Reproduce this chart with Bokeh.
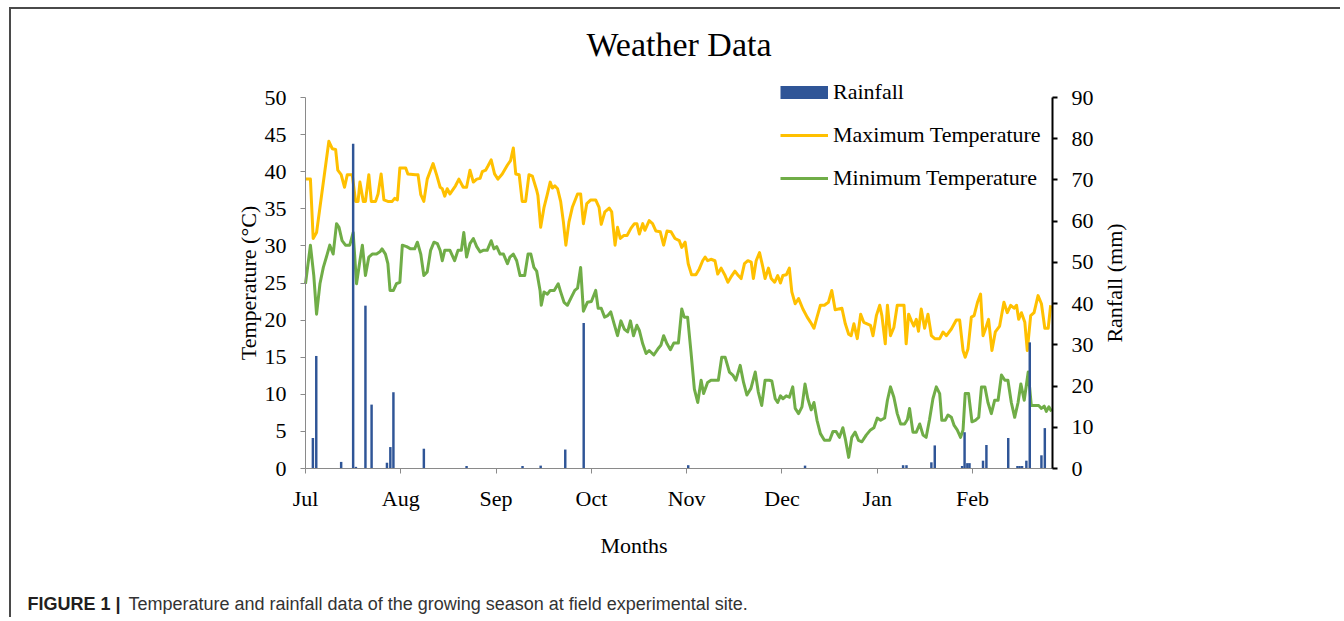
import math
from bokeh.plotting import figure
from bokeh.models import (Range1d, LinearAxis, FixedTicker, Label, Legend,
                          LegendItem, ColumnDataSource)
from bokeh.embed import file_html
from bokeh.resources import INLINE

# ---------------- data (days counted from 1 July) ----------------
MONTHS = ["Jul", "Aug", "Sep", "Oct", "Nov", "Dec", "Jan", "Feb"]
MONTH_TICKS = [0, 31, 62, 93, 124, 155, 186, 217]
TEMP_TICKS = [0, 5, 10, 15, 20, 25, 30, 35, 40, 45, 50]
RAIN_TICKS = [0, 10, 20, 30, 40, 50, 60, 70, 80, 90]
TEMP_MAX_AXIS = 50
RAIN_MAX_AXIS = 90
SEASON_DAYS = 243

MAX_DAY = [0, 1.6, 2.5, 3.6, 7.6, 8.7, 9.8, 10.5, 11.6, 12.7, 13.6, 15.2, 16.3, 17.1,
           17.7, 18.8, 19.5, 20.6, 21.4, 22.8, 23.6, 24.6, 25.5, 26.8, 28.2, 29, 29.9,
           30.7, 32.6, 33.3, 35.8, 36.6, 37.5, 38.5, 39.6, 41.5, 42.7, 43.8, 44.5, 45.3,
           46.1, 47, 48.8, 49.9, 51.3, 52.4, 53.5, 54.6, 55.7, 56.8, 57.5, 58.6, 59.4,
           60.4, 61.5, 62.6, 64, 65.7, 66.7, 67.6, 68.4, 69.5, 70.5, 71.6, 72.7, 73.8,
           75.2, 75.6, 76.5, 77.6, 78.7, 79.6, 80.3, 81.1, 82, 83, 83.9, 84.7, 85.7,
           86.8, 88.5, 89.5, 90.4, 91.5, 92.8, 94.4, 95.5, 96.2, 97.4, 98.8, 99.6,
           100.7, 101.5, 102.4, 103.5, 104.6, 105.9, 107, 107.8, 108.6, 109.7, 110.4,
           111.8, 112.9, 114, 115.4, 116.5, 117.6, 118.9, 120.2, 121.6, 122.4, 123.5,
           124.5, 125.6, 127, 128.1, 129.2, 130, 130.8, 131.9, 133.2, 134.1, 135.2,
           136.5, 137.4, 138.7, 139.7, 140.8, 141.7, 142.8, 143.9, 145, 145.7, 146.6,
           147.7, 148.8, 149.5, 150.6, 151.5, 152.6, 153.6, 154.5, 155.3, 156.4, 157.4,
           158.2, 159.3, 160.4, 161.8, 163.2, 164.3, 165.4, 166.4, 167.5, 168.8, 170.1,
           171.2, 172.3, 173.4, 174.5, 175.6, 176.7, 177.5, 178.4, 179.5, 180.6, 181.6,
           182.7, 183.8, 184.6, 185.7, 186.8, 187.5, 188.6, 189.3, 190.3, 191.4, 192.5,
           193.8, 194.7, 195.4, 196.2, 197.1, 197.9, 198.7, 199.4, 200.3, 201.4, 202.5,
           203.6, 204.7, 206.3, 207.4, 208.5, 210.1, 211.7, 212.8, 213.9, 214.6, 215.5,
           216.6, 217.5, 218.6, 219.6, 220.4, 221.2, 222.2, 223.3, 224.4, 225.8, 227.2,
           228.3, 229.4, 230.5, 231.3, 232, 232.9, 234, 234.8, 235.9, 237, 238.3, 239.4,
           240.5, 241.6, 242.4]
MAX_TEMP = [39, 39, 31, 31.8, 44.1, 43.1, 43, 40.2, 39.6, 37.9, 39.6, 39.6, 36, 36,
            38.6, 36, 36, 39.6, 36, 36, 37, 39.7, 36.2, 36, 36, 36.4, 36.2,
            40.5, 40.5, 39.7, 39.6, 39.6, 36.9, 36, 39, 41.1, 39.5, 37.9, 37.7, 36.7,
            37.7, 37, 38.1, 39, 37.9, 37.9, 40.2, 38.6, 39, 39.1, 40, 40.2, 40.8,
            41.6, 39.7, 39, 39.7, 40.9, 41.5, 43.2, 39.7, 39.6, 36, 36, 39.6, 39.4,
            37.5, 36.8, 32.5, 35.2, 37, 38.6, 37.8, 38.1, 37.7, 36, 33.2, 30.1, 33.2,
            35.2, 37, 37, 33, 35.7, 36.2, 36.2, 35.2, 32.9, 34.6, 35.1, 34.6,
            30.1, 32.5, 31, 31.4, 31.4, 32.4, 33, 33, 31.6, 33, 32.1,
            33.4, 33, 32, 31.9, 30.1, 32, 31.9, 31, 30.7, 29.8, 30.5,
            27.6, 26.1, 26.1, 26.9, 28, 28.5, 28, 28.2, 28, 26.2, 27,
            26, 25.1, 26, 26.6, 26, 25.6, 27.6, 28, 27.8, 25.6, 28,
            29.1, 27.1, 25.6, 27, 25.6, 25.1, 26, 25, 26, 26.1, 27,
            23.8, 22.2, 22.9, 21.5, 20.4, 19.7, 18.9, 20.4, 22, 22, 22.4,
            24, 21.4, 21.5, 21.6, 19.5, 18.1, 17.9, 19.5, 17.5, 20.8, 19.7,
            19.5, 19.3, 17.9, 20.6, 22, 20.6, 16.8, 22, 17.9, 19, 22,
            22, 22, 16.8, 20.8, 19.9, 19.2, 20.1, 18.5, 21.5, 18.9, 20.8,
            17.9, 17.5, 17.5, 18.4, 17.9, 18.8, 20, 20, 15.9, 15, 16.1,
            20.4, 20.6, 22.4, 23.5, 17.9, 18.8, 20.1, 15.9, 18.4, 19.2, 22.4,
            21, 22, 21.6, 22, 20.1, 21, 19.7, 15.9, 20.6, 21, 23.3, 22.2,
            18.9, 18.9, 22]

MIN_DAY = [0, 1.6, 2.7, 3.6, 4.7, 5.8, 6.8, 7.9, 9, 10.1, 10.9, 11.9, 13, 14.4, 15.5,
           16.6, 17.7, 18.5, 19.5, 20.6, 21.7, 23.1, 24.2, 24.9, 26, 26.8, 27.5, 28.6,
           29.6, 30.7, 31.5, 32.9, 34.2, 35.5, 36.4, 37.5, 38.5, 39.6, 40.7, 41.8, 42.9,
           43.8, 44.5, 45.3, 47, 48.5, 49.6, 50.7, 51.5, 52.4, 53.5, 54.6, 55.7, 56.8,
           57.8, 59.1, 60.4, 61.3, 62.2, 63.3, 64.4, 65.7, 66.5, 67.6, 68.7, 69.8, 71.3,
           72.4, 73.3, 74.3, 75.2, 76.3, 76.7, 77.6, 78.7, 79.6, 80.9, 82.2, 83, 84.1,
           85.2, 86.5, 87.6, 88.5, 89.5, 90.4, 91.7, 93, 94.4, 95.2, 96.2, 97.3, 98.3,
           99.3, 100.4, 101.5, 102.6, 103.7, 104.8, 105.7, 106.7, 107.8, 108.6, 109.7,
           110.8, 111.8, 113.3, 114.6, 115.6, 116.5, 117.6, 118.7, 119.8, 121.3, 122.4,
           123.2, 124.3, 125.4, 126.5, 127.6, 128.7, 129.5, 130.8, 131.9, 133, 134.3,
           135.4, 136.5, 137.9, 139, 140, 141.4, 142.5, 143.6, 144.9, 146.3, 147.3,
           148.4, 149.5, 150.9, 151.7, 152.8, 153.6, 154.5, 155.3, 156.4, 157.4, 158.5,
           159.3, 160.4, 161.5, 162.5, 163.4, 164.5, 165.4, 166.4, 167.5, 168.8, 170.5,
           171.6, 172.6, 173.7, 174.8, 175.6, 176.7, 177.7, 178.8, 179.9, 181, 182.4,
           183.8, 184.9, 186, 187.1, 188.4, 189.3, 190.3, 191.4, 192.5, 193.6, 194.9,
           195.8, 196.5, 197.6, 198.7, 199.8, 200.9, 201.9, 203, 204.1, 205.2, 206.3,
           207, 208.1, 209, 210.1, 211, 212, 213.1, 213.9, 214.6, 215.7, 216.8, 217.9,
           219, 219.9, 221, 222, 223.1, 224.2, 225.3, 226.4, 227.5, 228.5, 229.6, 230.7,
           231.8, 232.7, 233.8, 235.1, 236.1, 237.2, 238.5, 239.4, 240.3, 241, 241.8,
           242.7]
MIN_TEMP = [24.9, 30.1, 26, 20.8, 24.9, 27.1, 28.5, 30.1, 28.9, 33, 32.5, 30.7, 30.1,
            30.1, 31.8, 24.9, 28, 30.1, 26, 28.5, 28.9, 28.9, 29.2, 29.6, 28.9, 27.6,
            24, 24, 24.9, 25.1, 30.1, 29.9, 29.6, 29.6, 30.5, 28.9, 26, 26.5, 29.4, 30.5,
            30.3, 29.4, 28, 29.4, 29.4, 28, 29.4, 29.4, 31.8, 28.5, 30.3, 31, 29.9, 29.2,
            29.4, 29.4, 30.7, 29.6, 29.9, 28.9, 28.9, 27.6, 28.5, 28.9, 28, 26, 26,
            28.9, 28.9, 27.1, 26.6, 24, 22, 23.8, 23.5, 24, 24, 24.9, 23.8, 22.4,
            22, 23.1, 24, 24.3, 27.1, 21.2, 22.4, 22.5, 24, 21.6, 21.6, 20.4, 20.6,
            21.1, 19.5, 17.9, 19.9, 18.8, 18.4, 19.9, 17.9, 19.3, 18.6, 16.8,
            15.5, 15.9, 15.3, 16.1, 16.6, 17.9, 16.8, 16, 16.9, 16.9, 21.5,
            20.4, 20.4, 15.7, 10.7, 8.9, 11.9, 10.1, 11.6, 11.9, 11.9, 11.9,
            15, 15, 13, 12.6, 11.9, 13.9, 11.6, 9.9, 10.8, 13, 10.3,
            8.5, 11.9, 11.9, 11.8, 9.4, 8.9, 9.8, 9.4, 9.8, 9.6, 11,
            8.1, 7.4, 8.3, 11.4, 9.4, 7.9, 8.9, 6.5, 4.7, 3.8, 3.8,
            5, 5, 4.2, 5.5, 4, 1.5, 4.2, 4.9, 3.8, 3.6, 4.5,
            5.2, 5.5, 6.8, 6.5, 6.8, 9.2, 11, 9.6, 7.4, 6, 6,
            6.6, 8.1, 4.9, 4.9, 6, 4.5, 4.2, 6.6, 9.4, 11, 10.1,
            6.5, 6.5, 7.2, 6.9, 5.8, 5.2, 4.2, 5.2, 10.1, 10.1, 6.3, 6.5,
            6.9, 11, 11, 8.9, 7.4, 9.2, 9.2, 12.6, 11.9, 11.9, 8.9, 6.9,
            8.9, 11.4, 9.2, 13, 8.5, 8.5, 8.5, 8.1, 8.4, 7.7, 8.3,
            7.7]

RAIN_DAY = [2.4, 3.5, 11.6, 15.5, 16.4, 19.5, 21.5, 26.5, 27.6, 28.6, 38.5, 52.4,
            70.6, 76.5, 84.5, 90.5, 124.5, 162.5, 194.4, 195.5, 203.6, 204.7, 213.6,
            214.4, 215.3, 216.0, 220.4, 221.5, 228.6, 231.6, 232.3, 233.1, 234.5,
            235.6, 239.4, 240.5]
RAIN_MM = [7.4, 27.3, 1.6, 78.8, 0.4, 39.5, 15.5, 1.4, 5.2, 18.5, 4.8, 0.6,
           0.6, 0.7, 4.6, 35.3, 0.8, 0.7, 0.8, 0.8, 1.5, 5.6, 0.6,
           8.8, 1.3, 1.3, 1.9, 5.7, 7.4, 0.6, 0.6, 0.6, 1.9,
           30.6, 3.2, 9.8]

CAPTION_HEAD = "FIGURE 1 |"
CAPTION_TEXT = "Temperature and rainfall data of the growing season at field experimental site."

# ---------------- styling / layout (page pixels) ----------------
SERIF = "Liberation Serif"
SANS = "Liberation Sans"
YELLOW = "#FFC000"
GREEN = "#70AD47"
BLUE = "#2F5597"
GREY_AX = "#8a8a8a"

CV_LEFT, CV_TOP = 11, 9          # canvas origin on the page (after margin + border)
W, H = 1331, 610                 # canvas size
AX_L, AX_R, AX_T, AX_B = 305, 1052, 97, 468   # axes box on the page
CV_RIGHT, CV_BOTTOM = CV_LEFT + W, CV_TOP + H

px_day = (AX_R - AX_L) / SEASON_DAYS
px_t = (AX_B - AX_T) / TEMP_MAX_AXIS
px_r = (AX_B - AX_T) / RAIN_MAX_AXIS


def sx(X):
    return X - CV_LEFT


def sy(Y):
    return CV_BOTTOM - Y


p = figure(width=W, height=H, title=None,
           x_range=Range1d(-(AX_L - CV_LEFT) / px_day,
                           SEASON_DAYS + (CV_RIGHT - AX_R) / px_day),
           y_range=Range1d(-(CV_BOTTOM - AX_B) / px_t,
                           TEMP_MAX_AXIS + (AX_T - CV_TOP) / px_t),
           toolbar_location=None, output_backend="svg", min_border=0,
           x_axis_type=None, y_axis_type=None)
p.styles = {"margin-left": "9px", "margin-top": "7px",
            "border-top": "2px solid #4a4a4a", "border-left": "2px solid #4a4a4a"}
p.outline_line_color = None
p.extra_y_ranges = {"rain": Range1d(-(CV_BOTTOM - AX_B) / px_r,
                                    RAIN_MAX_AXIS + (AX_T - CV_TOP) / px_r)}


def style_axis(ax, color, width):
    ax.axis_line_color = color
    ax.axis_line_width = width
    ax.major_tick_line_color = color
    ax.major_tick_line_width = width
    ax.major_tick_out = 5
    ax.major_tick_in = 0
    ax.minor_tick_line_color = None
    ax.major_label_text_font = SERIF
    ax.major_label_text_font_size = "22px"
    ax.major_label_text_color = "black"


# x axis along temperature 0
xa = LinearAxis(ticker=FixedTicker(ticks=MONTH_TICKS), bounds=(0, SEASON_DAYS),
                fixed_location=0)
xa.major_label_overrides = {t: m for t, m in zip(MONTH_TICKS, MONTHS)}
style_axis(xa, GREY_AX, 1)
xa.major_label_standoff = 12
p.add_layout(xa, "below")

# temperature axis at day 0
ya = LinearAxis(ticker=FixedTicker(ticks=TEMP_TICKS), bounds=(0, TEMP_MAX_AXIS),
                fixed_location=0)
style_axis(ya, GREY_AX, 1)
ya.major_label_standoff = 14
p.add_layout(ya, "left")

# rainfall axis at the end of the season
ra = LinearAxis(y_range_name="rain", ticker=FixedTicker(ticks=RAIN_TICKS),
                bounds=(0, RAIN_MAX_AXIS), fixed_location=SEASON_DAYS)
style_axis(ra, "black", 2)
ra.major_label_standoff = 14
p.add_layout(ra, "right")

# series
max_src = ColumnDataSource(dict(day=MAX_DAY, t=MAX_TEMP))
min_src = ColumnDataSource(dict(day=MIN_DAY, t=MIN_TEMP))
rain_src = ColumnDataSource(dict(day=RAIN_DAY, mm=RAIN_MM))

r_max = p.line("day", "t", source=max_src, line_color=YELLOW, line_width=3,
               line_join="round")
r_min = p.line("day", "t", source=min_src, line_color=GREEN, line_width=3,
               line_join="round")
r_rain = p.vbar(x="day", top="mm", bottom=0, width=0.8, source=rain_src,
                y_range_name="rain", fill_color=BLUE, line_color=None)
# hidden stand-in so the legend key is a flat 48x13 box
r_rain_key = p.line("day", "mm", source=rain_src, y_range_name="rain",
                    line_color=BLUE, line_width=13, visible=False)

legend = Legend(items=[LegendItem(label="Rainfall", renderers=[r_rain_key]),
                       LegendItem(label="Maximum Temperature", renderers=[r_max]),
                       LegendItem(label="Minimum Temperature", renderers=[r_min])],
                location=(sx(780), sy(191)), orientation="vertical",
                glyph_width=48, glyph_height=22, label_height=22,
                label_standoff=5, spacing=17, padding=0, margin=0,
                border_line_color=None, background_fill_alpha=0,
                inactive_fill_alpha=0,
                label_text_font=SERIF, label_text_font_size="22px",
                label_text_color="black")
p.add_layout(legend)


def label(X, Y, text, font=SERIF, size=22, style="normal", color="black",
          align="center", angle=0.0):
    p.add_layout(Label(x=sx(X), y=sy(Y), x_units="screen", y_units="screen",
                       text=text, text_font=font, text_font_size=f"{size}px",
                       text_font_style=style, text_color=color, angle=angle,
                       text_align=align, text_baseline="middle"))


label(678.5, 43.5, "Weather Data", size=34)
label(248, 282.5, "Temperature (°C)", angle=math.pi / 2)
label(1114, 282.5, "Ranfall (mm)", angle=math.pi / 2)
label(633.5, 544.6, "Months")
label(27, 603.8, CAPTION_HEAD, font=SANS, size=18, style="bold", color="#231f20",
      align="left")
label(128, 603.8, CAPTION_TEXT, font=SANS, size=18, color="#333333", align="left")

open("out.html", "w").write(file_html(p, INLINE))
